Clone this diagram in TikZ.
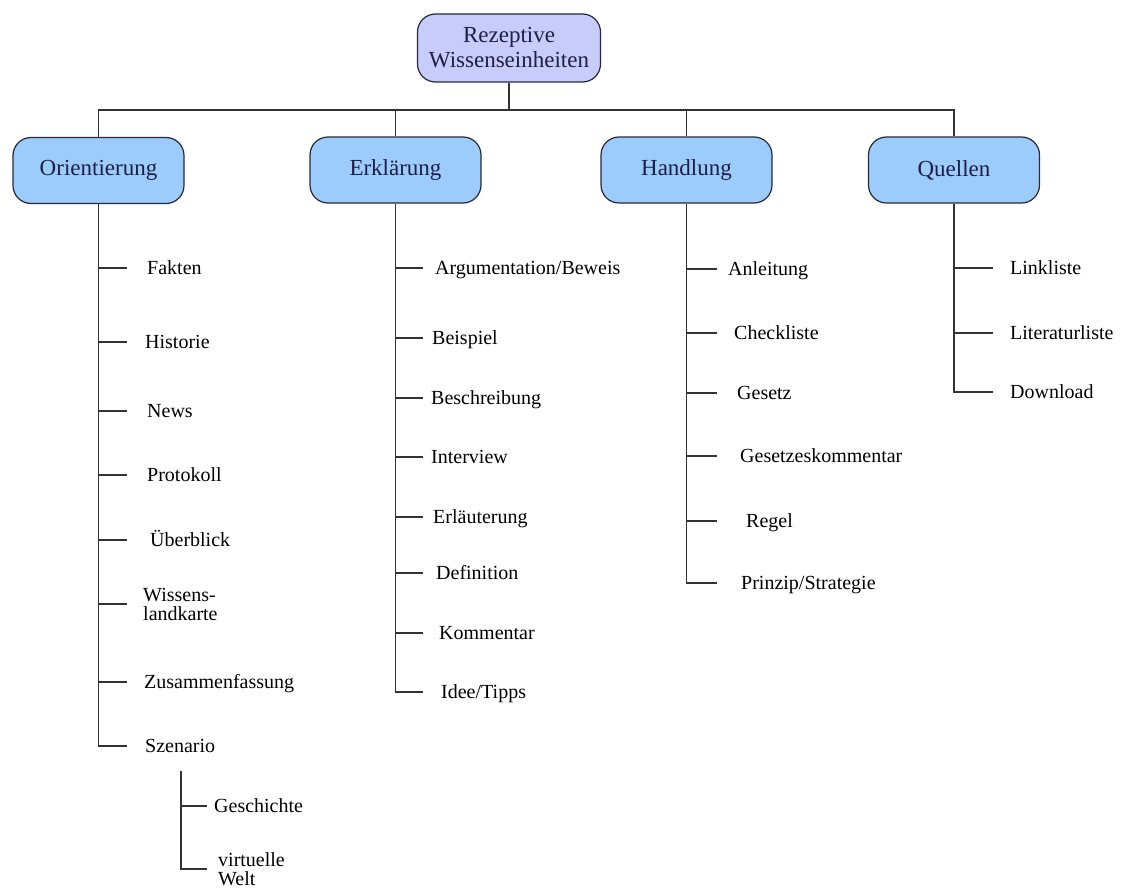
\documentclass[tikz,border=0pt]{standalone}
\usepackage{fontspec}
\setmainfont{Liberation Serif}
\definecolor{topfill}{RGB}{200,204,250}
\definecolor{boxfill}{RGB}{156,204,252}
\definecolor{boxline}{RGB}{40,40,56}
\definecolor{boxtext}{RGB}{30,30,70}
\tikzset{
  headbox/.style={draw=boxline, line width=1.2pt, rounded corners=18pt, fill=boxfill,
    text=boxtext, minimum width=171pt, minimum height=66pt, align=center,
    font=\fontsize{23}{25}\selectfont},
  rootbox/.style={headbox, fill=topfill, minimum width=183pt, minimum height=68pt},
  leafbase/.style={anchor=west, inner sep=0pt, align=left, font=\fontsize{20}{19}\selectfont},
  leaf/.style={leafbase, text height=12pt, text depth=0pt},
  tree/.style={line width=1.4pt, draw=black!80}
}
\begin{document}
\begin{tikzpicture}[x=1pt,y=-1pt]
            \useasboundingbox (0,0) rectangle (1128,891);
            % Kopf und Hauptgruppen
            \node[rootbox] (root) at (509,48) {Rezeptive\\Wissenseinheiten};
            \node[headbox] (orient) at (98.5,170.5) {Orientierung};
            \node[headbox] (erkl) at (395.5,170) {Erklärung};
            \node[headbox] (handl) at (686.5,170) {Handlung};
            \node[headbox] (quellen) at (954,170) {Quellen};
            \coordinate (bus) at (0,110);
            \draw[tree] (root.south) -- (root |- bus);
            \draw[tree] (orient.north) -- (orient |- bus) -| (quellen.north);
            \draw[tree] (erkl.north) -- (erkl |- bus);
            \draw[tree] (handl.north) -- (handl |- bus);
            % Orientierung
            \node[leaf] (fakten) at (147,268) {Fakten};
            \node[leaf] (historie) at (145,342) {Historie};
            \node[leaf] (news) at (147,411) {News};
            \node[leaf] (protokoll) at (147,475) {Protokoll};
            \node[leaf] (ueberblick) at (150,540) {Überblick};
            \node[leafbase] (landkarte) at (143,604) {Wissens-\\landkarte};
            \node[leaf] (zusammen) at (144,682) {Zusammenfassung};
            \node[leaf] (szenario) at (145,746) {Szenario};
            \draw[tree] (orient.south) -- (orient.south |- szenario.west) -- ++(28,0);
            \draw[tree] (orient.south |- fakten.west) -- ++(28,0);
            \draw[tree] (orient.south |- historie.west) -- ++(28,0);
            \draw[tree] (orient.south |- news.west) -- ++(28,0);
            \draw[tree] (orient.south |- protokoll.west) -- ++(28,0);
            \draw[tree] (orient.south |- ueberblick.west) -- ++(28,0);
            \draw[tree] (orient.south |- landkarte.west) -- ++(28,0);
            \draw[tree] (orient.south |- zusammen.west) -- ++(28,0);
            % Szenario
            \node[leaf] (geschichte) at (214,806) {Geschichte};
            \node[leafbase] (welt) at (218,869) {virtuelle\\Welt};
            \coordinate (szsub) at (181,771);
            \draw[tree] (szsub) -- (szsub |- welt.west) -- ++(26,0);
            \draw[tree] (szsub |- geschichte.west) -- ++(26,0);
            % Erklaerung
            \node[leaf] (argument) at (435,268) {Argumentation/Beweis};
            \node[leaf] (beispiel) at (432,338) {Beispiel};
            \node[leaf] (beschreibung) at (431,398) {Beschreibung};
            \node[leaf] (interview) at (431,457) {Interview};
            \node[leaf] (erlaeuterung) at (433,517) {Erläuterung};
            \node[leaf] (definition) at (436,573) {Definition};
            \node[leaf] (kommentar) at (439,633) {Kommentar};
            \node[leaf] (idee) at (441,692) {Idee/Tipps};
            \draw[tree] (erkl.south) -- (erkl.south |- idee.west) -- ++(27,0);
            \draw[tree] (erkl.south |- argument.west) -- ++(27,0);
            \draw[tree] (erkl.south |- beispiel.west) -- ++(27,0);
            \draw[tree] (erkl.south |- beschreibung.west) -- ++(27,0);
            \draw[tree] (erkl.south |- interview.west) -- ++(27,0);
            \draw[tree] (erkl.south |- erlaeuterung.west) -- ++(27,0);
            \draw[tree] (erkl.south |- definition.west) -- ++(27,0);
            \draw[tree] (erkl.south |- kommentar.west) -- ++(27,0);
            % Handlung
            \node[leaf] (anleitung) at (728,269) {Anleitung};
            \node[leaf] (checkliste) at (734,333) {Checkliste};
            \node[leaf] (gesetz) at (737,393) {Gesetz};
            \node[leaf] (gesetzkomm) at (740,456) {Gesetzeskommentar};
            \node[leaf] (regel) at (746,521) {Regel};
            \node[leaf] (prinzip) at (741,583) {Prinzip/Strategie};
            \draw[tree] (handl.south) -- (handl.south |- prinzip.west) -- ++(30,0);
            \draw[tree] (handl.south |- anleitung.west) -- ++(30,0);
            \draw[tree] (handl.south |- checkliste.west) -- ++(30,0);
            \draw[tree] (handl.south |- gesetz.west) -- ++(30,0);
            \draw[tree] (handl.south |- gesetzkomm.west) -- ++(30,0);
            \draw[tree] (handl.south |- regel.west) -- ++(30,0);
            % Quellen
            \node[leaf] (linkliste) at (1010,268) {Linkliste};
            \node[leaf] (literatur) at (1010,333) {Literaturliste};
            \node[leaf] (download) at (1010,392) {Download};
            \draw[tree] (quellen.south) -- (quellen.south |- download.west) -- ++(39,0);
            \draw[tree] (quellen.south |- linkliste.west) -- ++(39,0);
            \draw[tree] (quellen.south |- literatur.west) -- ++(39,0);
         \end{tikzpicture}
\end{document}
